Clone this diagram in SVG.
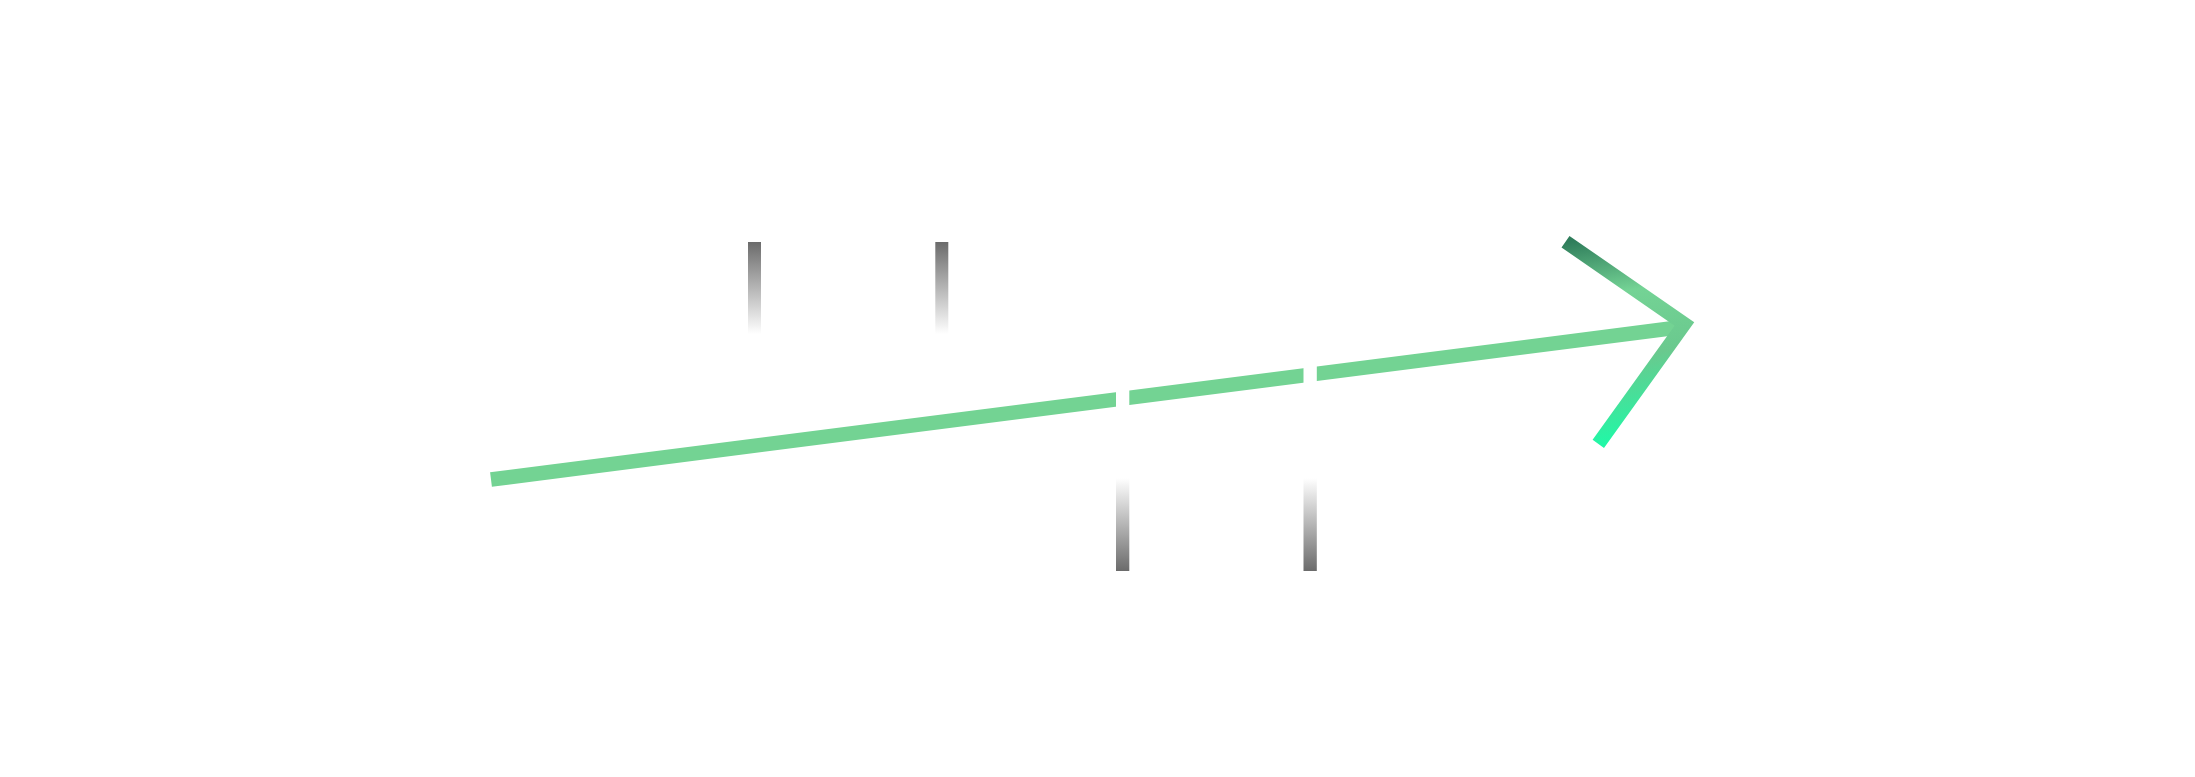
<svg xmlns="http://www.w3.org/2000/svg" width="2195" height="777" viewBox="0 0 2195 777">
  <defs>
    <linearGradient id="gTop" x1="0" y1="0" x2="0" y2="1">
      <stop offset="0" stop-color="#6b6b6b"/>
      <stop offset="1" stop-color="#ffffff"/>
    </linearGradient>
    <linearGradient id="gBot" x1="0" y1="360" x2="0" y2="571" gradientUnits="userSpaceOnUse">
      <stop offset="0" stop-color="#ffffff"/>
      <stop offset="0.56" stop-color="#ffffff"/>
      <stop offset="1" stop-color="#6b6b6b"/>
    </linearGradient>
    <linearGradient id="gHead" x1="1566" y1="242" x2="1598" y2="444" gradientUnits="userSpaceOnUse">
      <stop offset="0" stop-color="#2f7d5b"/>
      <stop offset="0.28" stop-color="#74d395"/>
      <stop offset="0.6" stop-color="#6ac98e"/>
      <stop offset="1" stop-color="#22f7a6"/>
    </linearGradient>
    <style>
      .shaft { stroke: #73d393; stroke-width: 14.5; fill: none; stroke-linecap: butt; }
      .head { stroke: url(#gHead); stroke-width: 14; fill: none; stroke-linejoin: miter; stroke-linecap: butt; }
    </style>
  </defs>
  <rect width="2195" height="777" fill="#ffffff"/>
  <g id="connectors">
    <line class="shaft" x1="491" y1="479.5" x2="1678" y2="327.5"/>
    <polyline class="head" points="1565.5,241.7 1684.4,324 1598.3,443.8"/>
  </g>
  <g id="ticks-top">
    <rect x="748" y="242" width="13" height="92" fill="url(#gTop)"/>
    <rect x="935.3" y="242" width="13" height="92" fill="url(#gTop)"/>
  </g>
  <g id="ticks-bottom">
    <rect x="1116" y="360" width="13.3" height="211" fill="url(#gBot)"/>
    <rect x="1303.5" y="360" width="13.3" height="211" fill="url(#gBot)"/>
  </g>
</svg>
